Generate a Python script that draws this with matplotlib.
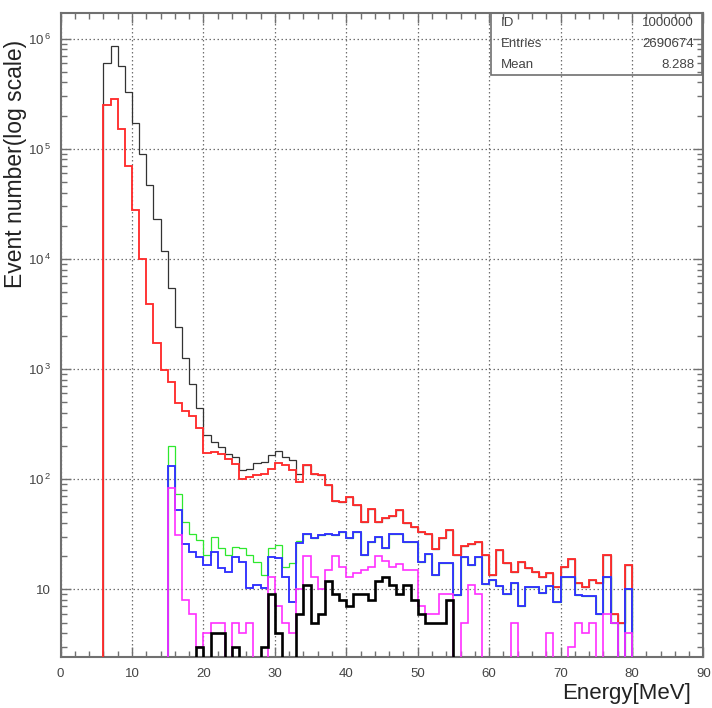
import matplotlib.pyplot as plt
import numpy as np

plt.rcParams['font.family'] = ['Liberation Sans', 'DejaVu Sans']
plt.rcParams['mathtext.fontset'] = 'custom'
plt.rcParams['mathtext.rm'] = 'Liberation Sans'

# 1 MeV bins from 0 to 90 MeV
edges = np.arange(0, 91)

# total spectrum (thin black), first bin at 6 MeV
total_start = 6
total = [6.0e5, 8.5e5, 5.6e5, 3.3e5, 1.7e5, 8.9e4, 4.7e4, 2.3e4, 1.17e4, 5.4e3,
         2.4e3, 1250, 725, 439, 250, 218, 195, 171, 158, 121,
         125, 139, 143, 165, 180, 159, 148, 112, 134, 112,
         109, 88, 64, 62, 69, 58, 41, 54, 41, 44,
         46, 52, 40, 37, 33, 32, 23, 29, 34.5, 20.5,
         25, 26, 27, 20.5, 13.5, 22.7, 17.2, 14.5, 17.8, 15.5,
         14.5, 13, 14, 10.6, 16, 19, 11.3, 10.6, 12.2, 11.3,
         20.5, 6, 5, 16.6]

# red, first bin at 6 MeV
red_start = 6
red = [2.5e5, 2.8e5, 1.5e5, 6.9e4, 2.8e4, 1.0e4, 3.9e3, 1740, 990, 766,
       493, 418, 374, 289, 173, 177, 171, 154, 138, 101,
       105, 109, 112, 125, 141, 134, 121, 94, 134, 112,
       109, 88, 64, 62, 69, 58, 41, 54, 41, 44,
       46, 52, 40, 37, 33, 32, 23, 29, 34.5, 20.5,
       25, 26, 27, 20.5, 13.5, 22.7, 17.2, 14.5, 17.8, 15.5,
       14.5, 13, 14, 10.6, 16, 19, 11.3, 10.6, 12.2, 11.3,
       20.5, 6, 5, 16.6]

# green, first bin at 15 MeV
green_start = 15
green = [200, 73, 41, 32, 28, 20.5, 30, 23.5, 20.5, 24.4,
         23.5, 20.5, 17.8, 13.5, 23.5, 25.2, 16, 17.2, 27.5, 32,
         29, 31, 32, 31, 33, 29, 33, 20.5, 27, 30,
         23.5, 32, 32, 27, 27, 17.8, 21, 13.5, 17.2, 17.2,
         8.9, 19.5, 16.6, 19.8, 11.2, 12.2, 10.8, 9.1, 11.5, 7.1,
         10.6, 10.4, 9.2, 10.8, 7.7, 13, 13, 8.9, 8.7, 8.7,
         6, 13, 5, 0, 10]

# blue, first bin at 15 MeV
blue_start = 15
blue = [132, 52.5, 26, 22, 19.5, 16.6, 21.9, 15.5, 14.5, 19.8,
        17.8, 10.2, 10.9, 10.2, 19.8, 19.1, 13, 7.7, 26.5, 32,
        29, 31, 32, 31, 33, 29, 33, 20.5, 27, 30,
        23.5, 32, 32, 27, 27, 17.8, 21, 13.5, 17.2, 17.2,
        8.9, 19.5, 16.6, 19.8, 11.2, 12.2, 10.8, 9.1, 11.5, 7.1,
        10.6, 10.4, 9.2, 10.8, 7.7, 13, 13, 8.9, 8.7, 8.7,
        6, 13, 5, 0, 10]

# magenta, first bin at 15 MeV
magenta_start = 15
magenta = [83, 31, 8, 6, 3, 4, 5, 5, 0, 5,
           4, 5, 0, 0, 13, 7, 5, 4, 10, 20,
           13, 10, 15, 20, 16, 13, 14, 15, 16, 20,
           18, 16, 17, 15, 15, 7, 6, 6, 9, 9,
           0, 5, 11, 9, 0, 0, 0, 0, 5, 0,
           0, 0, 0, 4, 0, 0, 3, 5, 4, 5,
           0, 6, 5, 0, 4]

# thick black, first bin at 19 MeV
thick_start = 19
thick = [3, 0, 4, 4, 0, 3, 0, 0, 0, 3,
         9, 4, 0, 0, 6, 11, 5, 6, 12, 9,
         8, 7, 9, 9, 8, 12, 13, 11, 9, 11,
         8, 6, 5, 5, 5, 8]

xticks = [0, 10, 20, 30, 40, 50, 60, 70, 80, 90]
yticks = [10, 1e2, 1e3, 1e4, 1e5, 1e6]
ytick_labels = ['10', r'$10^{\,2}$', r'$10^{\,3}$', r'$10^{\,4}$', r'$10^{\,5}$', r'$10^{\,6}$']

stats_names = ['ID', 'Entries', 'Mean']
stats_values = ['1000000', '2690674', '8.288']

fig = plt.figure(figsize=(7.12, 7.08), dpi=100)
ax = fig.add_axes([0.085, 0.072, 0.903, 0.909])


def hist(start, vals, **kw):
    vals = np.asarray(vals, dtype=float)
    ax.stairs(vals, edges[start:start + len(vals) + 1], baseline=0, **kw)


# lines underneath are a bit thinner so the ones on top cover them where they coincide
hist(total_start, total, color='#333333', lw=0.9, zorder=3)
hist(red_start, red, color='#ff2d2d', lw=1.35, zorder=4)
hist(green_start, green, color='#2ee82e', lw=0.9, zorder=5)
hist(blue_start, blue, color='#3030ff', lw=1.35, zorder=6)
hist(magenta_start, magenta, color='#ff30ff', lw=1.2, zorder=7)
hist(thick_start, thick, color='black', lw=1.9, zorder=8)

ax.set_yscale('log')
ax.set_xlim(0, 90)
ax.set_ylim(2.43, 1.69e6)

ax.set_xticks(xticks)
ax.set_xticks(np.arange(0, 91, 2), minor=True)
ax.set_yticks(yticks)
ax.set_yticklabels(ytick_labels)

ax.grid(True, which='major', linestyle=(0, (1.2, 2.0)), color='#707070', lw=0.9, zorder=1)
ax.tick_params(which='both', direction='in', top=True, right=True, colors='#707070',
               labelcolor='#444444', labelsize=9.5)
ax.tick_params(which='major', length=7, width=1)
ax.tick_params(which='minor', length=4, width=1)
ax.tick_params(axis='x', pad=8)
ax.tick_params(axis='y', pad=7)
for s in ax.spines.values():
    s.set_color('#707070')
    s.set_linewidth(1.5)

fig.text(16 / 712, 1 - 40 / 708, 'Event number(log scale)', rotation=90,
         ha='center', va='top', fontsize=16.5, color='#222222')
fig.text(691 / 712, 1 - 693 / 708, 'Energy[MeV]', ha='right', va='center',
         fontsize=16, color='#222222')

# statistics box in the top right corner
box = plt.Rectangle((491 / 712, 1 - 75 / 708), (702 - 491) / 712, (75 - 13) / 708,
                    transform=fig.transFigure, fill=False, edgecolor='#707070', lw=1.2, zorder=10)
fig.add_artist(box)
for i, (name, val) in enumerate(zip(stats_names, stats_values)):
    yy = 1 - (23 + 21 * i) / 708
    fig.text(501 / 712, yy, name, ha='left', va='center', fontsize=9.5, color='#444444')
    fig.text(694 / 712, yy, val, ha='right', va='center', fontsize=9.5, color='#444444')

fig.savefig('out.png', dpi=100)
